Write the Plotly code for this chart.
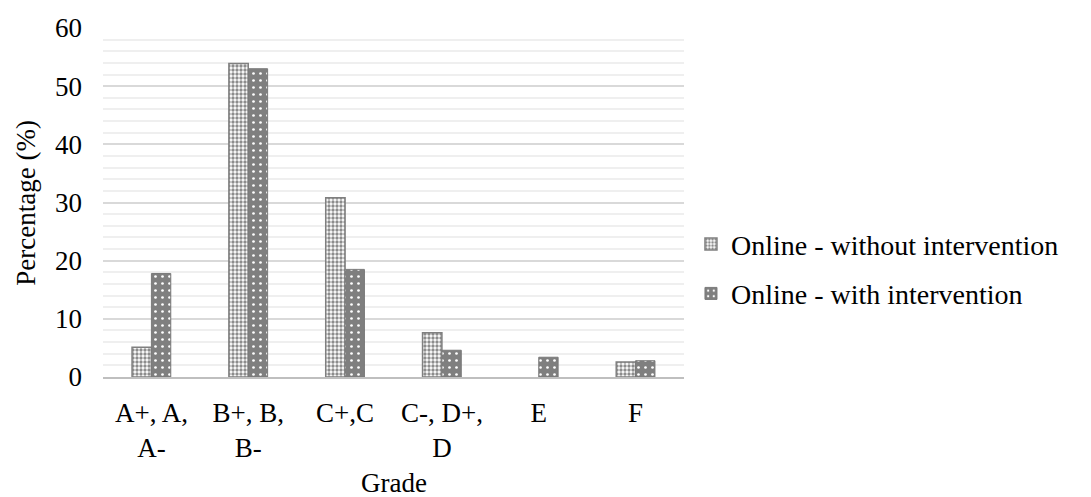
import plotly.graph_objects as go

# Grade bands and share of students (%) in each band
grades = ["A+, A,<br>A-", "B+, B,<br>B-", "C+,C", "C-, D+,<br>D", "E", "F"]
without_intervention = [5.1, 53.9, 30.8, 7.6, 0, 2.6]
with_intervention = [17.8, 53.0, 18.5, 4.6, 3.4, 2.8]

font_family = "Liberation Serif, Times New Roman, serif"

# no outline on empty bars
without_outline = [1.5 if v > 0 else 0 for v in without_intervention]

fig = go.Figure()
fig.add_trace(go.Bar(
    x=grades, y=without_intervention, name="Online - without intervention",
    legendgroup="without",
    marker=dict(
        color="white",
        line=dict(color="#808080", width=without_outline),
        pattern=dict(shape=".", fgcolor="#8c8c8c", bgcolor="white",
                     size=4, solidity=0.55, fillmode="replace"),
    ),
))
fig.add_trace(go.Bar(
    x=grades, y=with_intervention, name="Online - with intervention",
    legendgroup="with",
    marker=dict(
        color="#7f7f7f",
        line=dict(color="#7a7a7a", width=1),
        pattern=dict(shape=".", fgcolor="white", bgcolor="#7f7f7f",
                     size=7, solidity=0.12, fillmode="replace"),
    ),
))

fig.update_layout(
    width=1091, height=497,
    margin=dict(l=103, r=407, t=28, b=120, autoexpand=False),
    plot_bgcolor="white", paper_bgcolor="white",
    font=dict(family=font_family, size=27, color="black"),
    barmode="group", bargap=0.6, bargroupgap=0,
    legend=dict(x=1.012, y=0.31, xanchor="left", yanchor="middle",
                font=dict(size=28), tracegroupgap=10, itemwidth=30),
    annotations=[
        dict(text="Percentage (%)", textangle=-90, showarrow=False,
             xref="paper", yref="paper", x=-0.134, y=0.5,
             xanchor="center", yanchor="middle", font=dict(size=27)),
        dict(text="Grade", showarrow=False,
             xref="paper", yref="paper", x=0.5, y=-0.254,
             xanchor="center", yanchor="top", font=dict(size=27)),
    ],
)
fig.update_xaxes(
    automargin=False,
    showline=True, linecolor="#bfbfbf", linewidth=1.5,
    ticks="", tickfont=dict(size=27), ticklabelstandoff=11,
)
fig.update_yaxes(
    automargin=False,
    range=[0, 60], dtick=10, showgrid=True, gridcolor="#d9d9d9", gridwidth=1.5,
    minor=dict(dtick=2, showgrid=True, gridcolor="#efefef", gridwidth=1.5),
    zeroline=False, showline=False, ticks="", tickfont=dict(size=27),
    ticklabelstandoff=20,
)

fig.write_html("out.html")
